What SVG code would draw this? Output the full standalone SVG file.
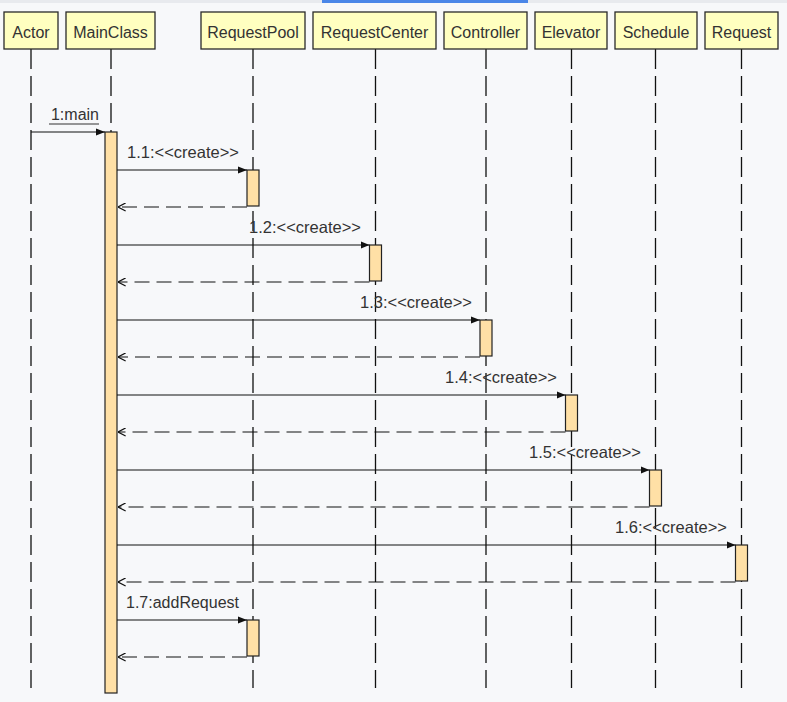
<svg xmlns="http://www.w3.org/2000/svg" width="787" height="702" viewBox="0 0 787 702">
<defs>
<style>
.hdr rect{fill:#ffffc0;stroke:#2a2a2a;stroke-width:1.3}
.hdr text,.lbl{font-family:"Liberation Sans",Arial,sans-serif;font-size:16px;fill:#333}
.hdr text{text-anchor:middle}
.lbl{text-anchor:end;font-size:16.5px}
.lbl.n{font-size:16px}
.life{stroke:#111;stroke-width:1.3;stroke-dasharray:20 7;fill:none}
.act{fill:#ffe0a6;stroke:#222;stroke-width:1.2}
.msg{stroke:#111;stroke-width:1.2;fill:none;marker-end:url(#fill)}
.ret{stroke:#111;stroke-width:1.2;fill:none;stroke-dasharray:15 7;marker-end:url(#open)}
</style>
<marker id="fill" viewBox="0 0 10 10" refX="10" refY="5" markerWidth="9" markerHeight="9" markerUnits="userSpaceOnUse" orient="auto">
<path d="M0,1 L10,5 L0,9 z" fill="#111"/>
</marker>
<marker id="open" viewBox="0 0 10 10" refX="9.5" refY="5" markerWidth="9" markerHeight="9" markerUnits="userSpaceOnUse" orient="auto">
<path d="M1,0.5 L9.5,5 L1,9.5" fill="none" stroke="#111" stroke-width="1.4"/>
</marker>
</defs>
<rect x="0" y="0" width="787" height="702" fill="#f7f8fa"/>
<rect x="0" y="0" width="787" height="3" fill="#e8eaee"/>
<rect x="322" y="0" width="206" height="3" fill="#4a86e8"/>

<g id="lifelines">
<line class="life" x1="31" y1="49" x2="31" y2="688"/>
<line class="life" x1="111" y1="49" x2="111" y2="688"/>
<line class="life" x1="253" y1="49" x2="253" y2="688"/>
<line class="life" x1="375.5" y1="49" x2="375.5" y2="688"/>
<line class="life" x1="486" y1="49" x2="486" y2="688"/>
<line class="life" x1="571.5" y1="49" x2="571.5" y2="688"/>
<line class="life" x1="655.5" y1="49" x2="655.5" y2="688"/>
<line class="life" x1="741.5" y1="49" x2="741.5" y2="688"/>
</g>

<g id="Actor" class="hdr"><rect x="4" y="12" width="54" height="37"/><text x="31" y="38">Actor</text></g>
<g id="MainClass" class="hdr"><rect x="66" y="12" width="89" height="37"/><text x="110.5" y="38">MainClass</text></g>
<g id="RequestPool" class="hdr"><rect x="201" y="12" width="104" height="37"/><text x="253" y="38">RequestPool</text></g>
<g id="RequestCenter" class="hdr"><rect x="313" y="12" width="123" height="37"/><text x="374.5" y="38">RequestCenter</text></g>
<g id="Controller" class="hdr"><rect x="444" y="12" width="83" height="37"/><text x="485.5" y="38">Controller</text></g>
<g id="Elevator" class="hdr"><rect x="535" y="12" width="72" height="37"/><text x="571" y="38">Elevator</text></g>
<g id="Schedule" class="hdr"><rect x="615" y="12" width="82" height="37"/><text x="656" y="38">Schedule</text></g>
<g id="Request" class="hdr"><rect x="705" y="12" width="73" height="37"/><text x="741.5" y="38">Request</text></g>

<g id="activations">
<rect class="act" x="105" y="132" width="12" height="561"/>
<rect class="act" x="247" y="170" width="12" height="36"/>
<rect class="act" x="369.5" y="245" width="12" height="36"/>
<rect class="act" x="480" y="320" width="12" height="36"/>
<rect class="act" x="565.5" y="395" width="12" height="36"/>
<rect class="act" x="649.5" y="470" width="12" height="36"/>
<rect class="act" x="735.5" y="545" width="12" height="36"/>
<rect class="act" x="247" y="620" width="12" height="36"/>
</g>

<g id="connectors">
<line class="msg" x1="31" y1="132" x2="105" y2="132"/>
<line class="msg" x1="117" y1="170" x2="247" y2="170"/>
<line class="ret" x1="247" y1="207" x2="118" y2="207"/>
<line class="msg" x1="117" y1="245" x2="369.5" y2="245"/>
<line class="ret" x1="369.5" y1="282" x2="118" y2="282"/>
<line class="msg" x1="117" y1="320" x2="480" y2="320"/>
<line class="ret" x1="480" y1="357" x2="118" y2="357"/>
<line class="msg" x1="117" y1="395" x2="565.5" y2="395"/>
<line class="ret" x1="565.5" y1="432" x2="118" y2="432"/>
<line class="msg" x1="117" y1="470" x2="649.5" y2="470"/>
<line class="ret" x1="649.5" y1="507" x2="118" y2="507"/>
<line class="msg" x1="117" y1="545" x2="735.5" y2="545"/>
<line class="ret" x1="735.5" y1="582" x2="118" y2="582"/>
<line class="msg" x1="117" y1="620" x2="247" y2="620"/>
<line class="ret" x1="247" y1="657" x2="118" y2="657"/>
</g>

<g id="labels">
<text class="lbl n" x="99" y="120">1:main</text>
<line x1="49" y1="124" x2="99" y2="124" stroke="#333" stroke-width="1"/>
<text class="lbl" x="239" y="158">1.1:&lt;&lt;create&gt;&gt;</text>
<text class="lbl" x="361" y="233">1.2:&lt;&lt;create&gt;&gt;</text>
<text class="lbl" x="472" y="308">1.3:&lt;&lt;create&gt;&gt;</text>
<text class="lbl" x="557" y="383">1.4:&lt;&lt;create&gt;&gt;</text>
<text class="lbl" x="641" y="458">1.5:&lt;&lt;create&gt;&gt;</text>
<text class="lbl" x="727" y="533">1.6:&lt;&lt;create&gt;&gt;</text>
<text class="lbl n" x="239" y="608">1.7:addRequest</text>
</g>
</svg>
